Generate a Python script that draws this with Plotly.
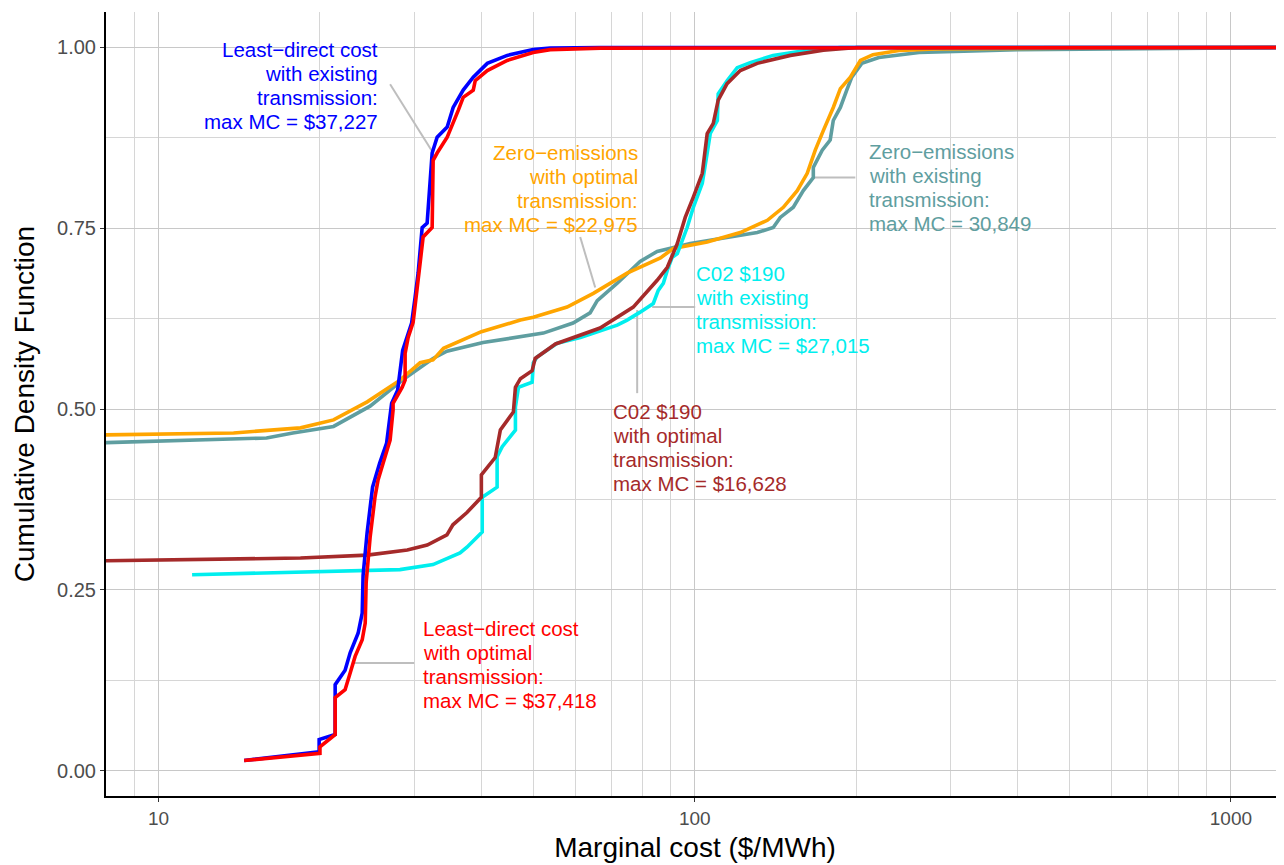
import math
import plotly.graph_objects as go

# ---------------- data ----------------
ld_exist_x = [14.44, 19.2, 19.93, 19.93, 21.35, 21.35, 22.28, 22.77, 23.56, 23.98, 24.07, 24.49, 25.07, 25.84,
              26.63, 27.21, 27.92, 28.53, 29.02, 29.65, 30.10, 30.49, 31.02, 31.69, 32.38, 33.08, 34.54, 35.44,
              37.0, 38.63, 41.03, 44.70, 49.96, 53.75, 66.7, 1300]
ld_exist_y = [0.014, 0.024, 0.026, 0.043, 0.050, 0.119, 0.139, 0.163, 0.190, 0.218, 0.270, 0.329, 0.392, 0.425,
              0.453, 0.508, 0.526, 0.581, 0.599, 0.619, 0.655, 0.688, 0.751, 0.757, 0.854, 0.876, 0.890, 0.917,
              0.941, 0.959, 0.978, 0.989, 0.997, 0.999, 1.0, 1.0]

ld_opt_x = [14.44, 19.2, 20.0, 20.0, 21.35, 21.35, 22.28, 22.77, 23.26, 23.98, 24.29, 24.39, 24.6, 24.81, 25.34,
            25.67, 26.23, 27.03, 27.38, 27.38, 28.46, 28.83, 28.83, 29.21, 29.84, 30.10, 30.75, 31.15, 32.38,
            32.52, 33.08, 34.54, 35.44, 36.22, 37.0, 38.63, 38.96, 41.03, 44.70, 49.96, 53.75, 66.7, 1300]
ld_opt_y = [0.014, 0.022, 0.024, 0.033, 0.050, 0.101, 0.112, 0.135, 0.158, 0.181, 0.204, 0.260, 0.300, 0.323,
            0.379, 0.402, 0.425, 0.457, 0.499, 0.508, 0.530, 0.540, 0.577, 0.599, 0.620, 0.641, 0.702, 0.738,
            0.751, 0.844, 0.854, 0.876, 0.895, 0.913, 0.931, 0.941, 0.954, 0.968, 0.982, 0.993, 0.997, 0.999, 1.0]

co2_exist_x = [11.55, 28.2, 32.5, 35.4, 36.5, 37.6, 40.15, 40.15, 42.8, 42.8, 43.75, 46.3, 46.3, 46.9, 49.75,
               50.0, 50.8, 55.4, 61.2, 71.7, 74.8, 79.1, 83.7, 85.5, 87.4, 88.9, 90.8, 92.8, 96.8, 99.4,
               103.3, 105.5, 106.9, 110.2, 110.6, 114.9, 120.0, 126.9, 140.0, 162.0, 187.0, 1300]
co2_exist_y = [0.271, 0.278, 0.285, 0.296, 0.301, 0.309, 0.330, 0.378, 0.392, 0.434, 0.448, 0.471, 0.503, 0.530,
               0.537, 0.564, 0.572, 0.591, 0.599, 0.616, 0.623, 0.634, 0.646, 0.664, 0.674, 0.692, 0.710, 0.715,
               0.751, 0.779, 0.812, 0.854, 0.881, 0.899, 0.936, 0.954, 0.972, 0.979, 0.989, 0.996, 1.0, 1.0]

co2_opt_x = [7.5, 18.4, 24.5, 29.1, 31.7, 34.5, 35.4, 37.6, 40.0, 40.0, 42.45, 43.4, 45.9, 46.3, 47.3, 49.75,
             50.4, 55.0, 66.6, 76.8, 85.1, 88.9, 92.8, 96.0, 99.4, 103.3, 105.5, 108.3, 110.6, 114.9, 121.6,
             130.8, 150.8, 173.7, 201.0, 1300]
co2_opt_y = [0.290, 0.294, 0.298, 0.305, 0.312, 0.326, 0.340, 0.357, 0.378, 0.409, 0.433, 0.471, 0.496, 0.530,
             0.542, 0.553, 0.570, 0.590, 0.612, 0.641, 0.678, 0.696, 0.729, 0.765, 0.793, 0.826, 0.881, 0.895,
             0.927, 0.950, 0.968, 0.978, 0.989, 0.996, 1.0, 1.0]

zero_opt_x = [7.5, 13.8, 18.4, 21.2, 24.5, 28.2, 30.75, 32.5, 34.0, 35.4, 40.0, 47.3, 50.0, 57.8, 64.7, 74.8,
              86.3, 91.2, 105.5, 121.6, 136.6, 146.3, 155.3, 162.1, 167.8, 173.7, 181.3, 186.9, 195.1, 203.7,
              215.0, 242.0, 280.0, 500.0, 1300]
zero_opt_y = [0.464, 0.467, 0.474, 0.485, 0.510, 0.540, 0.564, 0.568, 0.584, 0.590, 0.607, 0.623, 0.627, 0.641,
              0.660, 0.688, 0.709, 0.722, 0.731, 0.744, 0.761, 0.779, 0.802, 0.826, 0.858, 0.885, 0.917, 0.943,
              0.959, 0.982, 0.990, 0.996, 0.998, 0.999, 1.0]

zero_exist_x = [7.5, 15.9, 17.8, 21.2, 24.8, 28.5, 32.5, 34.5, 40.3, 47.3, 52.2, 59.3, 63.8, 65.8, 71.7, 79.1,
                85.1, 98.1, 113.0, 130.8, 140.1, 144.4, 152.7, 159.4, 166.4, 166.4, 172.9, 178.9, 181.3, 186.9,
                192.1, 196.3, 204.9, 220.5, 262.0, 400.0, 1300]
zero_exist_y = [0.453, 0.460, 0.467, 0.476, 0.504, 0.540, 0.570, 0.580, 0.592, 0.600, 0.605, 0.619, 0.633, 0.650,
                0.674, 0.704, 0.718, 0.729, 0.736, 0.744, 0.751, 0.765, 0.779, 0.802, 0.820, 0.834, 0.858, 0.872,
                0.899, 0.917, 0.941, 0.959, 0.978, 0.986, 0.993, 0.997, 1.0]

x_tick_vals = [10, 100, 1000]
x_tick_text = ["10", "100", "1000"]
y_tick_vals = [0.0, 0.25, 0.5, 0.75, 1.0]
y_tick_text = ["0.00", "0.25", "0.50", "0.75", "1.00"]

series = [
    ("Zero-emissions existing", zero_exist_x, zero_exist_y, "#5F9EA0"),
    ("Zero-emissions optimal", zero_opt_x, zero_opt_y, "#FFA500"),
    ("C02 existing", co2_exist_x, co2_exist_y, "#00EEEE"),
    ("C02 optimal", co2_opt_x, co2_opt_y, "#A52A2A"),
    ("Least-direct existing", ld_exist_x, ld_exist_y, "#0000FF"),
    ("Least-direct optimal", ld_opt_x, ld_opt_y, "#FF0000"),
]

fig = go.Figure()

# leader segments (label connectors)
leaders = [
    ([27.03, 32.52], [0.949, 0.854]),
    ([61.15, 65.22], [0.738, 0.668]),
    ([166.4, 199.3], [0.820, 0.820]),
    ([83.3, 100.2], [0.641, 0.641]),
    ([78.1, 78.1], [0.637, 0.522]),
    ([23.06, 29.97], [0.149, 0.149]),
]
for lx, ly in leaders:
    fig.add_trace(go.Scatter(x=lx, y=ly, mode="lines", line=dict(color="#BEBEBE", width=2),
                             showlegend=False, hoverinfo="skip"))

for name, xs, ys, col in series:
    fig.add_trace(go.Scatter(x=xs, y=ys, mode="lines", name=name,
                             line=dict(color=col, width=3.6), showlegend=False))

labels = [
    (25.8, 0.948, "right", "#0000FF",
     ["Least\u2212direct cost", "with existing", "transmission:", "max MC = $37,227"]),
    (78.6, 0.805, "right", "#FFA500",
     ["Zero\u2212emissions", "with optimal", "transmission:", "max MC = $22,975"]),
    (210.7, 0.807, "left", "#5F9EA0",
     ["Zero\u2212emissions", "with existing", "transmission:", "max MC = 30,849"]),
    (100.2, 0.638, "left", "#00EEEE",
     ["C02 $190", "with existing", "transmission:", "max MC = $27,015"]),
    (70.2, 0.447, "left", "#A52A2A",
     ["C02 $190", "with optimal", "transmission:", "max MC = $16,628"]),
    (31.0, 0.147, "left", "#FF0000",
     ["Least\u2212direct cost", "with optimal", "transmission:", "max MC = $37,418"]),
]
line_gap = 24.0
for lx, ly, anchor, col, lines in labels:
    n = len(lines)
    for i, t in enumerate(lines):
        fig.add_annotation(x=math.log10(lx), y=ly, xref="x", yref="y", text=t, showarrow=False,
                           xanchor=anchor, yanchor="middle", align=anchor, borderpad=0,
                           yshift=((n - 1) / 2 - i) * line_gap,
                           font=dict(family="Liberation Sans, Arial, sans-serif", size=20.5, color=col))

minor_x = [v * m for v in (1, 10, 100, 1000) for m in range(2, 10)]

# page body has an 8px margin: figure sized so the plot area lands where the reference has it
fig.update_layout(
    width=1276, height=857,
    margin=dict(l=98, r=0, t=4, b=69, autoexpand=False),
    paper_bgcolor="white", plot_bgcolor="white",
    font=dict(family="Liberation Sans, Arial, sans-serif"),
)
fig.update_xaxes(
    type="log", range=[math.log10(7.98), math.log10(1256)],
    tickvals=x_tick_vals, ticktext=x_tick_text,
    tickfont=dict(size=19, color="#4D4D4D"),
    ticks="outside", ticklen=4, tickwidth=1.2, tickcolor="#333333",
    showline=True, linecolor="black", linewidth=2,
    showgrid=True, gridcolor="#C8C8C8", gridwidth=1.3,
    minor=dict(tickvals=minor_x, showgrid=True, gridcolor="#D6D6D6", gridwidth=1, ticks=""),
    zeroline=False, automargin=False,
    title=dict(text="Marginal cost ($/MWh)", font=dict(size=28, color="black"), standoff=10),
)
fig.update_yaxes(
    range=[-0.035, 1.049],
    tickvals=y_tick_vals, ticktext=y_tick_text,
    tickfont=dict(size=20, color="#4D4D4D"),
    ticks="outside", ticklen=4, tickwidth=1.2, tickcolor="#333333",
    showline=True, linecolor="black", linewidth=2,
    showgrid=True, gridcolor="#C8C8C8", gridwidth=1.3,
    minor=dict(tickvals=[0.125, 0.375, 0.625, 0.875], showgrid=True, gridcolor="#D6D6D6",
               gridwidth=1, ticks=""),
    zeroline=False, automargin=False,
    title=dict(text="Cumulative Density Function", font=dict(size=28, color="black"), standoff=14),
)

fig.write_html("out.html")
